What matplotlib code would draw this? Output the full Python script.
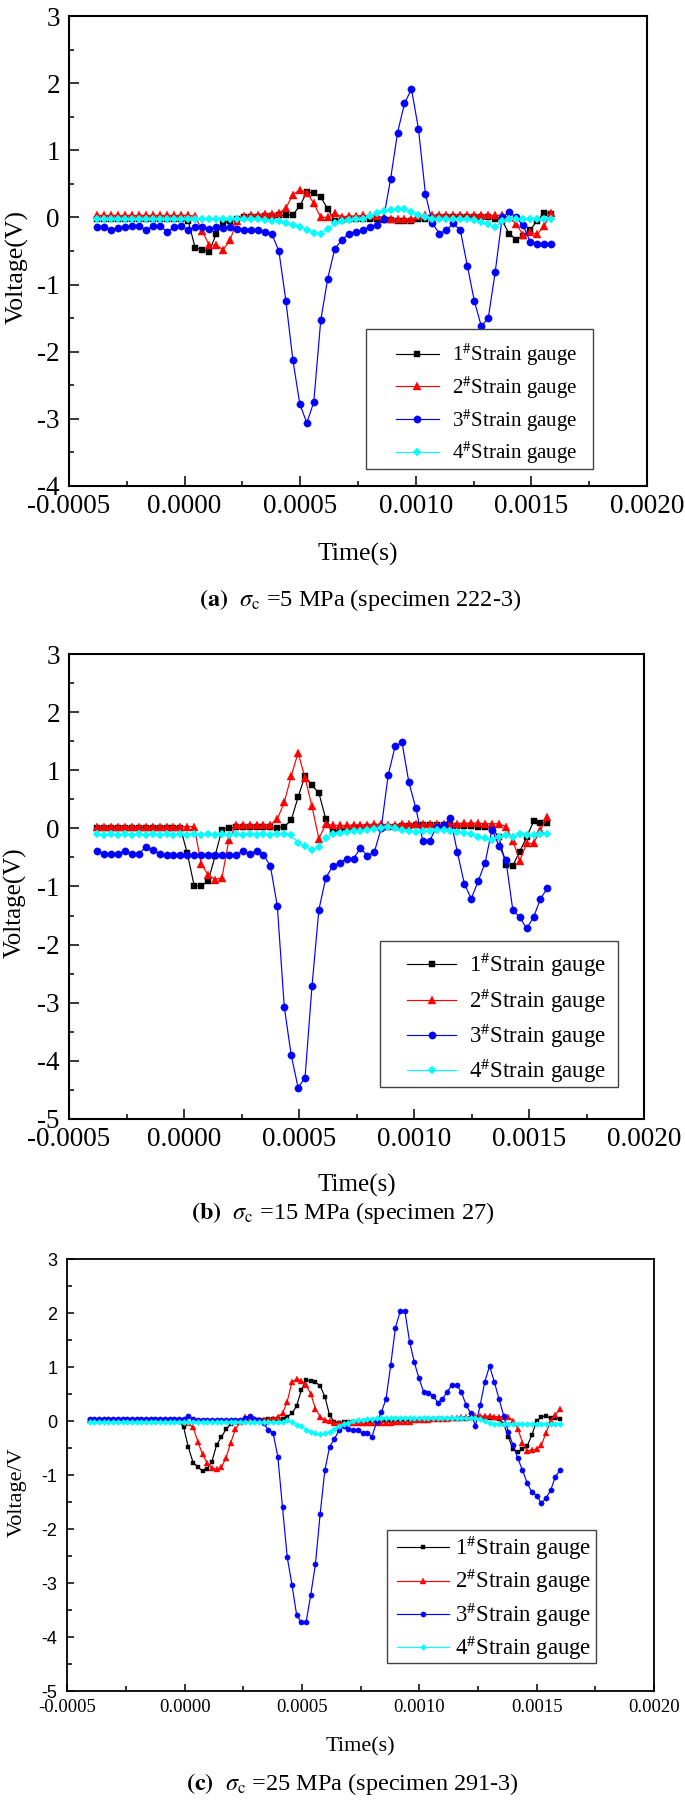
import numpy as np
import matplotlib
matplotlib.use('Agg')
import matplotlib.pyplot as plt
from matplotlib.ticker import MultipleLocator, FuncFormatter
from matplotlib.patches import Rectangle

plt.rcParams['font.family'] = ['Liberation Serif', 'DejaVu Serif']
plt.rcParams['mathtext.fontset'] = 'stix'

# ---------------- data ----------------
labels = [r"1$^{\#}$Strain gauge", r"2$^{\#}$Strain gauge",
          r"3$^{\#}$Strain gauge", r"4$^{\#}$Strain gauge"]
x_ticks = [-0.0005, 0.0000, 0.0005, 0.0010, 0.0015, 0.0020]

# panel (a) sigma_c = 5 MPa
t_a = np.linspace(-0.000377, 0.001585, 66)
a1 = [-0.02, -0.02, -0.02, -0.02, -0.02, -0.02, -0.02, -0.02, -0.02, -0.02,
      -0.02, -0.02, -0.02, -0.05, -0.45, -0.48, -0.51, -0.25, -0.08, -0.05,
      -0.02, 0.00, 0.00, 0.01, 0.02, 0.02, 0.03, 0.03, 0.04, 0.17,
      0.38, 0.37, 0.30, 0.13, -0.05, -0.04, -0.03, -0.02, -0.02, -0.03,
      -0.03, -0.04, -0.04, -0.05, -0.05, -0.05, -0.03, -0.02, -0.01, 0.00,
      0.00, 0.01, 0.01, 0.01, 0.01, 0.00, 0.00, -0.02, -0.05, -0.24,
      -0.33, -0.27, -0.19, -0.05, 0.07, 0.05]
a2 = [0.03, 0.03, 0.03, 0.03, 0.03, 0.03, 0.03, 0.03, 0.03, 0.03,
      0.03, 0.03, 0.03, 0.03, 0.02, -0.20, -0.41, -0.41, -0.48, -0.34,
      -0.05, 0.02, 0.03, 0.04, 0.05, 0.05, 0.06, 0.14, 0.34, 0.41,
      0.37, 0.21, 0.00, 0.00, 0.06, 0.01, 0.02, 0.02, 0.03, 0.03,
      0.02, 0.00, -0.02, -0.03, -0.02, -0.03, 0.02, 0.03, 0.03, 0.03,
      0.03, 0.03, 0.03, 0.03, 0.03, 0.03, 0.03, 0.03, 0.03, 0.00,
      -0.10, -0.26, -0.22, -0.25, -0.13, 0.07]
a3 = [-0.15, -0.15, -0.18, -0.16, -0.15, -0.13, -0.13, -0.19, -0.13, -0.13,
      -0.21, -0.15, -0.13, -0.19, -0.14, -0.15, -0.17, -0.15, -0.16, -0.15,
      -0.17, -0.18, -0.18, -0.18, -0.21, -0.25, -0.50, -1.24, -2.12, -2.78,
      -3.06, -2.75, -1.53, -0.91, -0.47, -0.34, -0.24, -0.21, -0.19, -0.14,
      -0.12, -0.02, 0.57, 1.26, 1.70, 1.91, 1.32, 0.35, -0.09, -0.24,
      -0.19, -0.09, -0.19, -0.72, -1.24, -1.62, -1.50, -0.81, 0.00, 0.08,
      0.00, -0.12, -0.36, -0.39, -0.39, -0.39]
a4 = [-0.03, -0.03, -0.03, -0.03, -0.03, -0.03, -0.03, -0.03, -0.03, -0.03,
      -0.03, -0.03, -0.03, -0.03, -0.03, -0.03, -0.03, -0.03, -0.03, -0.03,
      -0.03, -0.03, -0.03, -0.03, -0.04, -0.05, -0.06, -0.08, -0.11, -0.14,
      -0.18, -0.23, -0.24, -0.17, -0.09, -0.06, -0.04, -0.03, -0.02, 0.02,
      0.06, 0.10, 0.11, 0.12, 0.13, 0.08, 0.03, 0.00, -0.02, -0.03,
      -0.03, -0.03, -0.03, -0.03, -0.04, -0.07, -0.10, -0.14, -0.06, -0.02,
      -0.02, -0.02, -0.03, -0.02, -0.02, -0.02]

# panel (b) sigma_c = 15 MPa
t_b = np.linspace(-0.000377, 0.001580, 66)
b1 = [0.01, 0.01, 0.01, 0.01, 0.01, 0.01, 0.01, 0.01, 0.01, 0.01,
      0.01, 0.01, 0.01, -0.43, -0.99, -0.99, -0.91, -0.48, -0.02, 0.01,
      0.02, 0.02, 0.02, 0.02, 0.02, 0.02, 0.01, 0.03, 0.14, 0.54,
      0.90, 0.74, 0.61, 0.16, -0.06, -0.03, -0.01, 0.00, 0.01, 0.02,
      0.02, 0.03, 0.03, 0.03, 0.04, 0.04, 0.05, 0.05, 0.05, 0.05,
      0.05, 0.05, 0.04, 0.04, 0.04, 0.03, 0.03, 0.00, -0.15, -0.63,
      -0.64, -0.40, -0.15, 0.12, 0.09, 0.09]
b2 = [0.03, 0.03, 0.03, 0.03, 0.03, 0.03, 0.03, 0.03, 0.03, 0.03,
      0.03, 0.03, 0.03, 0.03, 0.03, -0.61, -0.80, -0.88, -0.85, -0.20,
      0.05, 0.06, 0.06, 0.05, 0.06, 0.06, 0.16, 0.45, 0.90, 1.30,
      0.87, 0.38, -0.18, 0.08, 0.05, 0.05, 0.05, 0.06, 0.06, 0.06,
      0.07, 0.07, 0.06, 0.06, 0.07, 0.07, 0.07, 0.07, 0.07, 0.07,
      0.07, 0.07, 0.08, 0.09, 0.09, 0.09, 0.08, 0.08, 0.08, 0.03,
      -0.21, -0.56, -0.26, -0.26, -0.02, 0.19]
b3 = [-0.39, -0.44, -0.44, -0.44, -0.39, -0.44, -0.44, -0.32, -0.37, -0.44,
      -0.46, -0.46, -0.46, -0.46, -0.46, -0.46, -0.46, -0.46, -0.46, -0.46,
      -0.46, -0.39, -0.44, -0.39, -0.45, -0.65, -1.34, -3.07, -3.90, -4.46,
      -4.29, -2.72, -1.40, -0.85, -0.65, -0.59, -0.53, -0.52, -0.34, -0.47,
      -0.41, 0.00, 0.91, 1.41, 1.48, 0.79, 0.35, -0.21, -0.21, 0.02,
      0.05, 0.17, -0.41, -0.95, -1.21, -0.91, -0.59, -0.02, -0.30, -0.54,
      -1.40, -1.53, -1.72, -1.53, -1.21, -1.03]
b4 = [-0.10, -0.11, -0.10, -0.11, -0.10, -0.11, -0.10, -0.11, -0.10, -0.11,
      -0.10, -0.11, -0.10, -0.11, -0.10, -0.11, -0.10, -0.11, -0.10, -0.11,
      -0.10, -0.11, -0.10, -0.11, -0.10, -0.11, -0.10, -0.10, -0.12, -0.25,
      -0.31, -0.37, -0.32, -0.17, -0.10, -0.08, -0.06, -0.05, -0.04, -0.03,
      -0.01, 0.01, 0.02, 0.00, -0.03, -0.05, -0.06, -0.05, -0.04, -0.03,
      -0.02, -0.04, -0.06, -0.08, -0.09, -0.14, -0.17, -0.20, -0.15, -0.12,
      -0.14, -0.10, -0.11, -0.11, -0.10, -0.10]

# panel (c) sigma_c = 25 MPa
t_c = np.linspace(-0.000405, 0.001600, 101)
c1 = [0.02, 0.02, 0.02, 0.02, 0.02, 0.02, 0.02, 0.02, 0.02, 0.02,
      0.02, 0.02, 0.02, 0.02, 0.02, 0.02, 0.02, 0.02, 0.02, 0.02,
      -0.12, -0.49, -0.77, -0.85, -0.93, -0.88, -0.75, -0.44, -0.30, -0.15,
      -0.06, -0.01, 0.00, 0.01, 0.01, 0.02, 0.02, 0.02, 0.03, 0.03,
      0.03, 0.04, 0.08, 0.14, 0.28, 0.57, 0.76, 0.74, 0.72, 0.65,
      0.45, 0.11, -0.02, -0.03, -0.02, -0.02, -0.02, -0.01, -0.01, -0.01,
      0.00, 0.00, 0.01, 0.00, 0.01, 0.00, 0.01, 0.00, 0.01, 0.01,
      0.02, 0.03, 0.03, 0.03, 0.03, 0.03, 0.03, 0.03, 0.04, 0.04,
      0.04, 0.06, 0.06, 0.06, 0.06, 0.06, 0.06, 0.03, -0.05, -0.30,
      -0.52, -0.58, -0.52, -0.46, -0.26, 0.00, 0.08, 0.09, 0.05, 0.05,
      0.04]
c2 = [0.01, 0.01, 0.01, 0.01, 0.01, 0.01, 0.01, 0.01, 0.01, 0.01,
      0.01, 0.01, 0.01, 0.01, 0.01, 0.01, 0.01, 0.01, 0.01, 0.01,
      0.00, -0.04, -0.12, -0.38, -0.62, -0.78, -0.87, -0.89, -0.86, -0.68,
      -0.40, -0.15, -0.02, 0.08, 0.06, 0.03, 0.02, 0.02, 0.02, 0.03,
      0.08, 0.14, 0.36, 0.72, 0.78, 0.74, 0.67, 0.50, 0.23, 0.08,
      0.02, 0.00, -0.03, -0.04, -0.03, -0.03, -0.03, -0.04, -0.03, -0.04,
      -0.03, -0.04, -0.03, -0.03, -0.03, -0.02, -0.02, -0.02, -0.01, 0.01,
      0.02, 0.02, 0.02, 0.03, 0.03, 0.03, 0.04, 0.05, 0.06, 0.07,
      0.08, 0.08, 0.09, 0.09, 0.09, 0.09, 0.08, 0.08, 0.08, 0.08,
      0.00, -0.14, -0.40, -0.55, -0.54, -0.52, -0.45, -0.22, 0.00, 0.12,
      0.22]
c3 = [0.03, 0.03, 0.03, 0.03, 0.03, 0.03, 0.03, 0.03, 0.03, 0.03,
      0.03, 0.03, 0.03, 0.03, 0.03, 0.03, 0.03, 0.03, 0.03, 0.03,
      0.03, 0.10, 0.03, 0.02, 0.02, 0.02, 0.02, 0.02, 0.02, 0.02,
      0.02, 0.02, 0.02, 0.05, 0.10, 0.04, 0.02, -0.04, -0.17, -0.22,
      -0.66, -1.60, -2.52, -3.03, -3.59, -3.73, -3.73, -3.22, -2.65, -1.72,
      -0.91, -0.48, -0.34, -0.17, -0.09, -0.15, -0.17, -0.17, -0.22, -0.22,
      -0.29, -0.02, 0.16, 0.41, 1.04, 1.73, 2.03, 2.04, 1.47, 1.09,
      0.79, 0.54, 0.52, 0.47, 0.34, 0.41, 0.54, 0.67, 0.67, 0.54,
      0.30, 0.14, -0.09, 0.29, 0.73, 1.02, 0.73, 0.41, 0.10, -0.20,
      -0.45, -0.69, -0.91, -1.15, -1.32, -1.38, -1.52, -1.43, -1.28, -1.03,
      -0.91]
c4 = [-0.02, -0.02, -0.02, -0.02, -0.02, -0.02, -0.02, -0.02, -0.02, -0.02,
      -0.02, -0.02, -0.02, -0.02, -0.02, -0.02, -0.02, -0.02, -0.02, -0.02,
      -0.02, -0.02, -0.02, -0.02, -0.02, -0.02, -0.02, -0.02, -0.02, -0.02,
      -0.02, -0.02, -0.02, -0.02, -0.02, -0.02, -0.02, -0.02, -0.02, -0.02,
      -0.02, -0.02, 0.01, -0.02, -0.07, -0.10, -0.16, -0.20, -0.23, -0.24,
      -0.23, -0.20, -0.15, -0.10, -0.06, -0.03, 0.00, 0.01, 0.02, 0.03,
      0.04, 0.05, 0.06, 0.06, 0.06, 0.06, 0.06, 0.06, 0.06, 0.06,
      0.06, 0.06, 0.06, 0.06, 0.06, 0.06, 0.06, 0.06, 0.06, 0.06,
      0.06, 0.06, 0.06, 0.04, 0.00, -0.03, -0.05, -0.05, -0.05, -0.05,
      -0.05, -0.05, -0.05, -0.05, -0.05, -0.05, -0.05, -0.05, -0.05, -0.05,
      -0.05]

captions = [r"$\mathbf{(a)}$  $\sigma_{\mathrm{c}}$ =5 MPa (specimen 222-3)",
            r"$\mathbf{(b)}$  $\sigma_{\mathrm{c}}$ =15 MPa (specimen 27)",
            r"$\mathbf{(c)}$  $\sigma_{\mathrm{c}}$ =25 MPa (specimen 291-3)"]

# ---------------- figure ----------------
W, H = 685, 1801
fig = plt.figure(figsize=(W / 100, H / 100), dpi=100)


def rect(l, r, t, b):
    return [l / W, 1 - b / H, (r - l) / W, (b - t) / H]


colors = ['black', 'red', 'blue', 'cyan']
markers = ['s', '^', 'o', 'D']


def panel(r, t, ys, ylim, ms, lw_sp, tick_fs, ytick_family, lab_fs,
          ylabel, xlab_y, ylab_xy, box, leg_c, leg_fs, leg_ls, hl, htp,
          major_len, minor_len, xpad, ypad):
    ax = fig.add_axes(r)
    mscale = [0.95, 1.1, 1.05, 0.85]
    for y, c, m, s, lab in zip(ys, colors, markers, mscale, labels):
        ax.plot(t, y, color=c, marker=m, markersize=ms * s, linewidth=0.85,
                markeredgewidth=0.3, label=lab)
    ax.set_xlim(-0.0005, 0.0020)
    ax.set_ylim(*ylim)
    ax.set_xticks(x_ticks)
    ax.set_yticks(np.arange(ylim[0], ylim[1] + 1, 1))
    ax.xaxis.set_minor_locator(MultipleLocator(0.00025))
    ax.yaxis.set_minor_locator(MultipleLocator(0.5))
    ax.xaxis.set_major_formatter(FuncFormatter(lambda v, p: '%.4f' % v))
    ax.yaxis.set_major_formatter(FuncFormatter(lambda v, p: '%d' % round(v)))
    ax.tick_params(which='both', direction='in', top=False, right=False, width=1.1)
    ax.tick_params(axis='x', pad=xpad)
    ax.tick_params(axis='y', pad=ypad)
    ax.tick_params(which='major', length=major_len)
    ax.tick_params(which='minor', length=minor_len)
    for lab in ax.get_xticklabels():
        lab.set_fontsize(tick_fs[0])
        lab.set_family('Liberation Serif')
    for lab in ax.get_yticklabels():
        lab.set_fontsize(tick_fs[1])
        lab.set_family(ytick_family)
    for sp in ax.spines.values():
        sp.set_linewidth(lw_sp)
    ax.set_xlabel('Time(s)', fontsize=lab_fs)
    ax.set_ylabel(ylabel, fontsize=lab_fs)
    ax.xaxis.set_label_coords(0.5, xlab_y)
    ax.xaxis.label.set_va('center')
    ax.yaxis.set_label_coords(*ylab_xy)
    ax.yaxis.label.set_va('center')
    # legend frame (drawn as a box) and legend content
    x0, x1, y0, y1 = box
    ax.add_patch(Rectangle((x0 / W, 1 - y1 / H), (x1 - x0) / W, (y1 - y0) / H,
                           transform=fig.transFigure, facecolor='white',
                           edgecolor='#444444', linewidth=1.0, zorder=4,
                           clip_on=False))
    ax.legend(loc='center', bbox_to_anchor=(leg_c[0] / W, 1 - leg_c[1] / H),
              bbox_transform=fig.transFigure,
              prop={'family': 'Liberation Serif', 'size': leg_fs},
              frameon=False, handlelength=hl, handletextpad=htp,
              labelspacing=leg_ls, borderpad=0.0)
    return ax


ax_a = panel(rect(69, 647, 16, 486), t_a, [a1, a2, a3, a4], (-4, 3), 5.0,
             1.5, (19.5, 19.5), 'Liberation Serif', 18.5,
             'Voltage(V)', -0.1450, (-0.0893, 0.465),
             (365.7, 592.7, 328.7, 469.3), (486.4, 404.0), 15, 0.3, 2.07, 0.61,
             7, 3.5, 6.0, 6.5)
ax_b = panel(rect(69, 644, 654, 1119), t_b, [b1, b2, b3, b4], (-5, 3), 5.0,
             1.5, (19.5, 19.5), 'Liberation Serif', 18,
             'Voltage(V)', -0.1419, (-0.0939, 0.4655),
             (380.0, 618.3, 940.7, 1086.7), (506.7, 1018.0), 16.5, 0.3, 2.11, 0.58,
             7, 3.5, 6.0, 6.5)
ax_c = panel(rect(67.3, 654, 1259, 1691), t_c, [c1, c2, c3, c4], (-5, 3), 3.6,
             1.3, (13.5, 13), 'Liberation Sans', 16,
             'Voltage/V', -0.1304, (-0.0849, 0.460),
             (387.3, 596.0, 1530.0, 1663.3), (494.5, 1598.0), 16.4, 0.22, 2.27, 0.29,
             5, 3.5, 5.5, 7.0)

cap_pos = [(360, 600), (343, 1213), (352, 1784)]
for (cx, cy), txt in zip(cap_pos, captions):
    fig.text(cx / W, 1 - cy / H, txt, ha='center', va='center', fontsize=17.5)

fig.savefig('out.png', dpi=100)
